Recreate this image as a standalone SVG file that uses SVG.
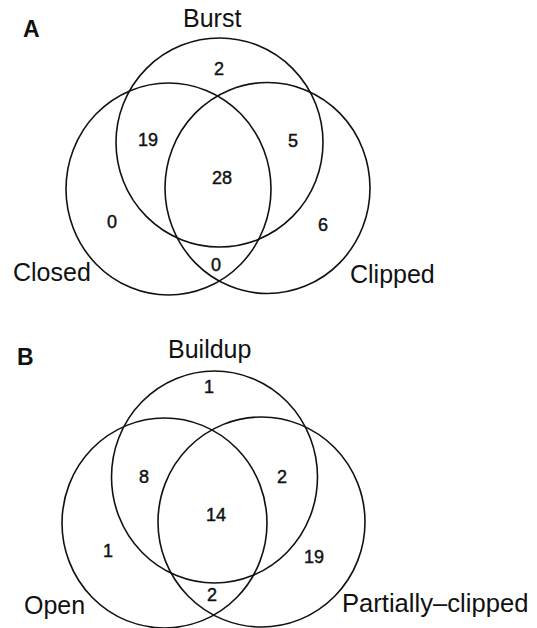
<svg xmlns="http://www.w3.org/2000/svg" width="537" height="628" viewBox="0 0 537 628">
  <style>
    .set { fill: none; stroke: #111; stroke-width: 1.6; }
    .lbl { font-family: "Liberation Sans", Arial, sans-serif; font-size: 25px; fill: #111; }
    .num { font-family: "Liberation Sans", Arial, sans-serif; font-size: 18px; fill: #111; stroke: #111; stroke-width: 0.45; text-anchor: middle; }
    .panel { font-family: "Liberation Sans", Arial, sans-serif; font-size: 23px; font-weight: bold; fill: #111; }
  </style>
  <rect width="537" height="628" fill="#ffffff"/>

  <g id="panelA">
    <text class="panel" x="23" y="37">A</text>
    <g id="A-burst">
      <ellipse class="set" cx="219.5" cy="142.5" rx="103.5" ry="104.5"/>
      <text class="lbl" x="183" y="27">Burst</text>
    </g>
    <g id="A-closed">
      <ellipse class="set" cx="168.5" cy="189" rx="102.5" ry="106"/>
      <text class="lbl" x="13" y="281">Closed</text>
    </g>
    <g id="A-clipped">
      <ellipse class="set" cx="267.5" cy="188" rx="102.5" ry="105.5"/>
      <text class="lbl" x="350" y="283">Clipped</text>
    </g>
    <g id="A-counts">
      <text class="num" x="219" y="75">2</text>
      <text class="num" x="148" y="146">19</text>
      <text class="num" x="293" y="147">5</text>
      <text class="num" x="222" y="184">28</text>
      <text class="num" x="112" y="228">0</text>
      <text class="num" x="216" y="271">0</text>
      <text class="num" x="323" y="231">6</text>
    </g>
  </g>

  <g id="panelB">
    <text class="panel" x="17" y="365">B</text>
    <g id="B-buildup">
      <ellipse class="set" cx="214.5" cy="477" rx="103" ry="106"/>
      <text class="lbl" x="168" y="358">Buildup</text>
    </g>
    <g id="B-open">
      <ellipse class="set" cx="164.5" cy="523" rx="102.5" ry="105"/>
      <text class="lbl" x="24" y="614">Open</text>
    </g>
    <g id="B-partial">
      <ellipse class="set" cx="261.5" cy="522" rx="103.5" ry="105"/>
      <text class="lbl" x="342" y="612" style="font-size:25.6px">Partially–clipped</text>
    </g>
    <g id="B-counts">
      <text class="num" x="209" y="393">1</text>
      <text class="num" x="144" y="483">8</text>
      <text class="num" x="282" y="483">2</text>
      <text class="num" x="216" y="521">14</text>
      <text class="num" x="108" y="557">1</text>
      <text class="num" x="314" y="563">19</text>
      <text class="num" x="212" y="601">2</text>
    </g>
  </g>

  <g id="connectors"></g>
</svg>
